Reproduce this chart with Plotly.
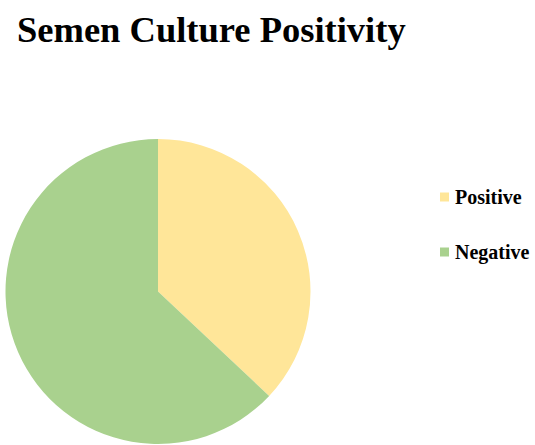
import plotly.graph_objects as go

labels = ["Positive", "Negative"]
values = [37, 63]
colors = ["#FFE699", "#A9D18E"]

W, H = 535, 445

fig = go.Figure(go.Pie(
    labels=labels,
    values=values,
    marker=dict(colors=colors, line=dict(width=0)),
    sort=False,
    direction="clockwise",
    rotation=0,
    textinfo="none",
    hoverinfo="label+percent",
    showlegend=False,
    domain=dict(x=[4 / W, 312 / W], y=[(H - 444) / H, (H - 139) / H]),
))

font_serif = "Liberation Serif, Times New Roman, serif"

# legend drawn as text + swatches
legend_y = [197, 252]
for lab, col, yy in zip(labels, colors, legend_y):
    fig.add_shape(type="rect", xref="paper", yref="paper",
                  x0=440 / W, x1=449 / W, y0=(H - yy - 4.5) / H, y1=(H - yy + 4.5) / H,
                  fillcolor=col, line=dict(width=0))
    fig.add_annotation(text="<b>" + lab + "</b>", xref="paper", yref="paper",
                       x=453 / W, y=(H - yy) / H, xanchor="left", yanchor="middle",
                       showarrow=False, font=dict(family=font_serif, size=20, color="#000000"))

fig.update_layout(
    width=W, height=H,
    margin=dict(l=0, r=0, t=0, b=0),
    paper_bgcolor="white",
    plot_bgcolor="white",
    title=dict(text="<b>Semen Culture Positivity</b>", x=17 / W, xanchor="left",
               y=(H - 29) / H, yanchor="middle", yref="container",
               font=dict(family=font_serif, size=36.5, color="#000000")),
)

fig.write_html("out.html", config={"displayModeBar": False},
               post_script="document.body.style.margin='0px';")
